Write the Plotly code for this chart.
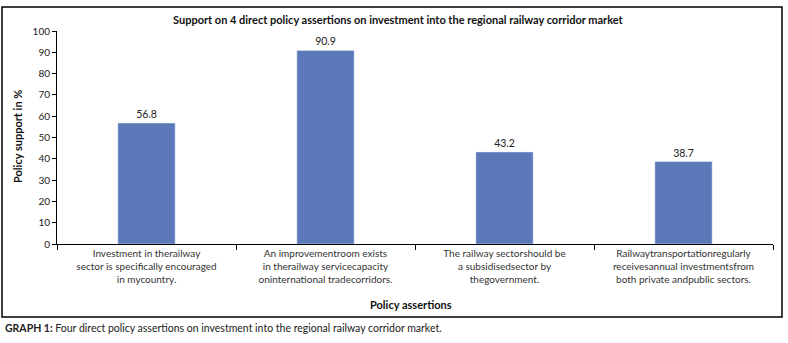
import plotly.graph_objects as go

categories = [
    "Investment in therailway<br>sector is specifically encouraged<br>in mycountry.",
    "An improvementroom exists<br>in therailway servicecapacity<br>oninternational tradecorridors.",
    "The railway sectorshould be<br>a subsidisedsector by<br>thegovernment.",
    "Railwaytransportationregularly<br>receivesannual investmentsfrom<br>both private andpublic sectors.",
]
values = [56.8, 90.9, 43.2, 38.7]
value_labels = ["56.8", "90.9", "43.2", "38.7"]

FONT = "Lato, Carlito, 'Liberation Sans', sans-serif"
W, H = 788, 343
L, R, T, B = 57, 15, 31, 99
pw, ph = W - L - R, H - T - B

def px(x):
    return (x - L) / pw

def py(y):
    return (H - B - y) / ph

fig = go.Figure(go.Bar(
    x=categories, y=values, text=value_labels, textposition="outside",
    textfont=dict(size=10.5, color="#222"), marker_color="#5b78b8",
    width=0.32, cliponaxis=False, hoverinfo="skip",
))

fig.update_layout(
    width=W, height=H, margin=dict(l=L, r=R, t=T, b=B, autoexpand=False),
    plot_bgcolor="white", paper_bgcolor="white",
    font=dict(family=FONT, size=10, color="#222"),
    showlegend=False,
    xaxis=dict(showline=True, linecolor="black", linewidth=1, ticks="outside",
               ticklen=5, tickcolor="black", tickson="boundaries",
               tickfont=dict(size=10, color="#333"), showgrid=False),
    yaxis=dict(range=[0, 100], dtick=10, showline=True, linecolor="black",
               linewidth=1, ticks="outside", ticklen=4, tickcolor="black",
               showgrid=False, zeroline=False, tickfont=dict(size=10, color="#222")),
    shapes=[dict(type="rect", xref="paper", yref="paper",
                 x0=px(2), x1=px(782), y0=py(317), y1=py(7),
                 line=dict(color="black", width=1.5))],
    annotations=[
        dict(text="<b>Support on 4 direct policy assertions on investment into the regional railway corridor market</b>",
             xref="paper", yref="paper", x=px(398), y=py(20), showarrow=False,
             font=dict(size=11, color="#111"), xanchor="center", yanchor="middle"),
        dict(text="<b>Policy support in %</b>", xref="paper", yref="paper",
             x=px(17), y=py(137), textangle=-90, showarrow=False,
             font=dict(size=11, color="#111"), xanchor="center", yanchor="middle"),
        dict(text="<b>Policy assertions</b>", xref="paper", yref="paper",
             x=px(411), y=py(304), showarrow=False,
             font=dict(size=11, color="#111"), xanchor="center", yanchor="middle"),
        dict(text="<b>GRAPH 1:</b> Four direct policy assertions on investment into the regional railway corridor market.",
             xref="paper", yref="paper", x=px(3), y=py(328), showarrow=False,
             font=dict(size=10.5, color="#222"), xanchor="left", yanchor="middle"),
    ],
)

fig.write_html("out.html", config={"displayModeBar": False},
               post_script="document.body.style.margin='0';document.body.style.overflow='hidden';")
